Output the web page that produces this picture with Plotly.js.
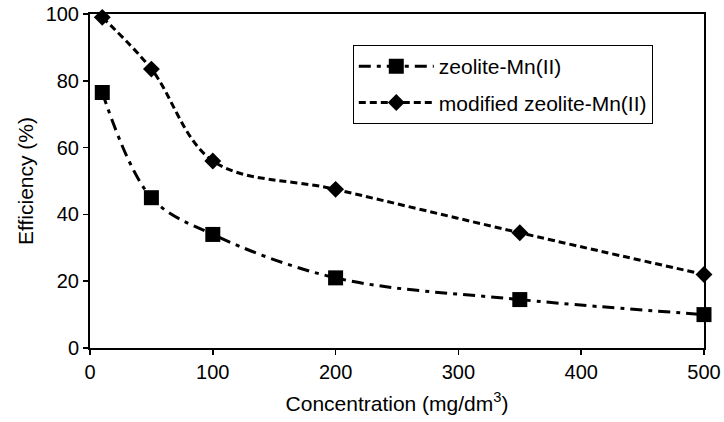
<!DOCTYPE html>
<html>
<head>
<meta charset="utf-8">
<script src="https://cdn.plot.ly/plotly-3.0.1.min.js"></script>
<style>html,body{margin:0;padding:0;background:#fff;}#chart{width:724px;height:422px;}</style>
</head>
<body>
<div id="chart"></div>
<script>
var concentration = [10, 50, 100, 200, 350, 500];
var zeoliteMn = [76.5, 45, 34, 21, 14.5, 10];
var modifiedZeoliteMn = [99, 83.5, 56, 47.5, 34.5, 22];
var seriesNames = ['zeolite-Mn(II)', 'modified zeolite-Mn(II)'];
var xTicks = [0, 100, 200, 300, 400, 500];
var yTicks = [0, 20, 40, 60, 80, 100];

var FONT = 'Liberation Sans, Arial, sans-serif';

var traces = [
  {
    x: concentration, y: zeoliteMn, name: seriesNames[0],
    type: 'scatter', mode: 'lines+markers', legendgroup: 'a', cliponaxis: false,
    line: {color: '#000', width: 3, dash: '12px,6px,4px,6px', shape: 'spline', smoothing: 1},
    marker: {symbol: 'square', size: 15, color: '#000'}
  },
  {
    x: concentration, y: modifiedZeoliteMn, name: seriesNames[1],
    type: 'scatter', mode: 'lines+markers', legendgroup: 'b', cliponaxis: false,
    line: {color: '#000', width: 3, dash: '7px,4px', shape: 'spline', smoothing: 1},
    marker: {symbol: 'diamond', size: 13, color: '#000'}
  }
];

var axisCommon = {
  showgrid: false, zeroline: false, showline: true, linecolor: '#000', linewidth: 2,
  mirror: true, ticks: 'outside', ticklen: 5, tickwidth: 1.5, tickcolor: '#000',
  tickfont: {family: FONT, size: 20, color: '#000'}
};

var layout = {
  width: 724, height: 422,
  margin: {l: 90, r: 20, t: 14, b: 74},
  paper_bgcolor: '#fff', plot_bgcolor: '#fff',
  font: {family: FONT, color: '#000'},
  xaxis: Object.assign({}, axisCommon, {
    range: [0, 500], tickvals: xTicks,
    title: {text: 'Concentration (mg/dm<sup>3</sup>)', font: {family: FONT, size: 21, color: '#000'}, standoff: 14}
  }),
  yaxis: Object.assign({}, axisCommon, {
    range: [0, 100], tickvals: yTicks,
    title: {text: 'Efficiency (%)', font: {family: FONT, size: 21, color: '#000'}, standoff: 6}
  }),
  legend: {
    x: 0.428, y: 0.907, xanchor: 'left', yanchor: 'top',
    bordercolor: '#000', borderwidth: 1, bgcolor: '#fff',
    font: {family: FONT, size: 21, color: '#000'},
    itemwidth: 75, tracegroupgap: 6
  },
  showlegend: true
};

Plotly.newPlot('chart', traces, layout, {staticPlot: true, displayModeBar: false});
</script>
</body>
</html>
